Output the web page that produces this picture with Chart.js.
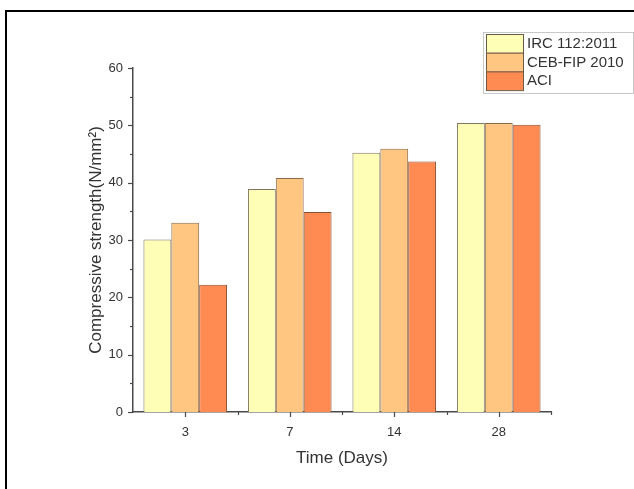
<!DOCTYPE html>
<html>
<head>
<meta charset="utf-8">
<script src="https://cdn.jsdelivr.net/npm/chart.js@4/dist/chart.umd.min.js"></script>
<style>
  html, body { margin: 0; padding: 0; background: #fff; }
  #wrap { position: relative; width: 634px; height: 489px; }
  #frame { position: absolute; left: 5px; top: 10px; width: 629px; height: 479px;
           border-left: 2px solid #000; border-top: 2px solid #000; box-sizing: border-box; pointer-events: none; }
  canvas { position: absolute; left: 0; top: 0; }
</style>
</head>
<body>
<div id="wrap">
  <canvas id="c" width="634" height="489"></canvas>
  <div id="frame"></div>
</div>
<script>
const categories = ['3', '7', '14', '28'];
const seriesNames = ['IRC 112:2011', 'CEB-FIP 2010', 'ACI'];
const ircValues = [30.1, 38.9, 45.2, 50.4];
const cebValues = [33.0, 40.8, 45.9, 50.4];
const aciValues = [22.2, 34.9, 43.7, 50.1];
const yTickValues = [0, 10, 20, 30, 40, 50, 60];

const fills = ['#FFFEB6', '#FFC681', '#FF8B52'];
const edges = ['#7d7560', '#8a6a48', '#8a4e30'];
const axisColor = '#4a4a4a';
const textColor = '#333333';
const fontFam = '"Liberation Sans", Arial, sans-serif';

const tickPlugin = {
  id: 'customTicks',
  afterDraw(chart) {
    const ctx = chart.ctx;
    const xs = chart.scales.x, ys = chart.scales.y;
    const area = chart.chartArea;
    ctx.save();
    ctx.strokeStyle = axisColor;
    ctx.lineWidth = 1.2;
    for (let v = 0; v <= 60; v += 5) {
      const y = Math.round(ys.getPixelForValue(v)) + 0.5;
      const len = (v % 10 === 0) ? 5 : 3;
      ctx.beginPath();
      ctx.moveTo(area.left, y);
      ctx.lineTo(area.left - len, y);
      ctx.stroke();
    }
    const n = categories.length;
    for (let i = 0; i < n; i++) {
      const x = Math.round(xs.getPixelForValue(i)) + 0.5;
      ctx.beginPath();
      ctx.moveTo(x, area.bottom);
      ctx.lineTo(x, area.bottom + 5);
      ctx.stroke();
      const xb = Math.round(xs.getPixelForValue(i + 0.5)) + 0.5;
      ctx.beginPath();
      ctx.moveTo(xb, area.bottom - 1);
      ctx.lineTo(xb, area.bottom + 3);
      ctx.stroke();
    }
    ctx.restore();
  }
};

const legendPlugin = {
  id: 'boxLegend',
  afterDraw(chart) {
    const ctx = chart.ctx;
    const bx = 483, by = 32, bw = 150, bh = 61;
    ctx.save();
    ctx.fillStyle = '#ffffff';
    ctx.fillRect(bx, by, bw, bh);
    ctx.strokeStyle = '#c8c8c8';
    ctx.lineWidth = 1;
    ctx.strokeRect(bx + 0.5, by + 0.5, bw, bh);
    const rowH = 18.7;
    const sx = 486, sw = 37, sy0 = 34;
    ctx.font = '15px ' + fontFam;
    ctx.textBaseline = 'middle';
    ctx.textAlign = 'left';
    chart.data.datasets.forEach((ds, i) => {
      const y = sy0 + i * rowH;
      ctx.fillStyle = ds.backgroundColor;
      ctx.fillRect(sx, y, sw, rowH);
      ctx.strokeStyle = '#6e5a48';
      ctx.lineWidth = 1;
      ctx.strokeRect(sx + 0.5, y + 0.5, sw, rowH);
      ctx.fillStyle = textColor;
      ctx.fillText(ds.label, 527, y + rowH / 2 + 0.5);
    });
    ctx.restore();
  }
};

new Chart(document.getElementById('c'), {
  type: 'bar',
  data: {
    labels: categories,
    datasets: [
      { label: seriesNames[0], data: ircValues, backgroundColor: fills[0], borderColor: edges[0], borderWidth: 1 },
      { label: seriesNames[1], data: cebValues, backgroundColor: fills[1], borderColor: edges[1], borderWidth: 1 },
      { label: seriesNames[2], data: aciValues, backgroundColor: fills[2], borderColor: edges[2], borderWidth: 1 }
    ]
  },
  options: {
    responsive: false,
    animation: false,
    devicePixelRatio: 1,
    layout: { padding: { left: 82, top: 68, right: 83, bottom: 16 } },
    datasets: { bar: { categoryPercentage: 0.8, barPercentage: 1.0 } },
    plugins: { legend: { display: false }, tooltip: { enabled: false } },
    scales: {
      x: {
        grid: { display: false, drawTicks: false },
        border: { display: true, color: axisColor, width: 1.5 },
        ticks: { color: textColor, font: { family: fontFam, size: 13 }, padding: 13 },
        title: { display: true, text: 'Time (Days)', color: textColor,
                 font: { family: fontFam, size: 17 }, padding: { top: 4, bottom: 4 } },
        afterFit(scale) { scale.height = 61; }
      },
      y: {
        min: 0, max: 60,
        afterBuildTicks(scale) { scale.ticks = yTickValues.map(v => ({ value: v })); },
        grid: { display: false, drawTicks: false },
        border: { display: true, color: axisColor, width: 1.5 },
        ticks: { color: textColor, font: { family: fontFam, size: 13 }, padding: 10 },
        title: { display: true, text: 'Compressive strength(N/mm²)', color: textColor,
                 font: { family: fontFam, size: 17 }, padding: { top: 4, bottom: 4 } },
        afterFit(scale) { scale.width = 51; }
      }
    }
  },
  plugins: [tickPlugin, legendPlugin]
});
</script>
</body>
</html>
